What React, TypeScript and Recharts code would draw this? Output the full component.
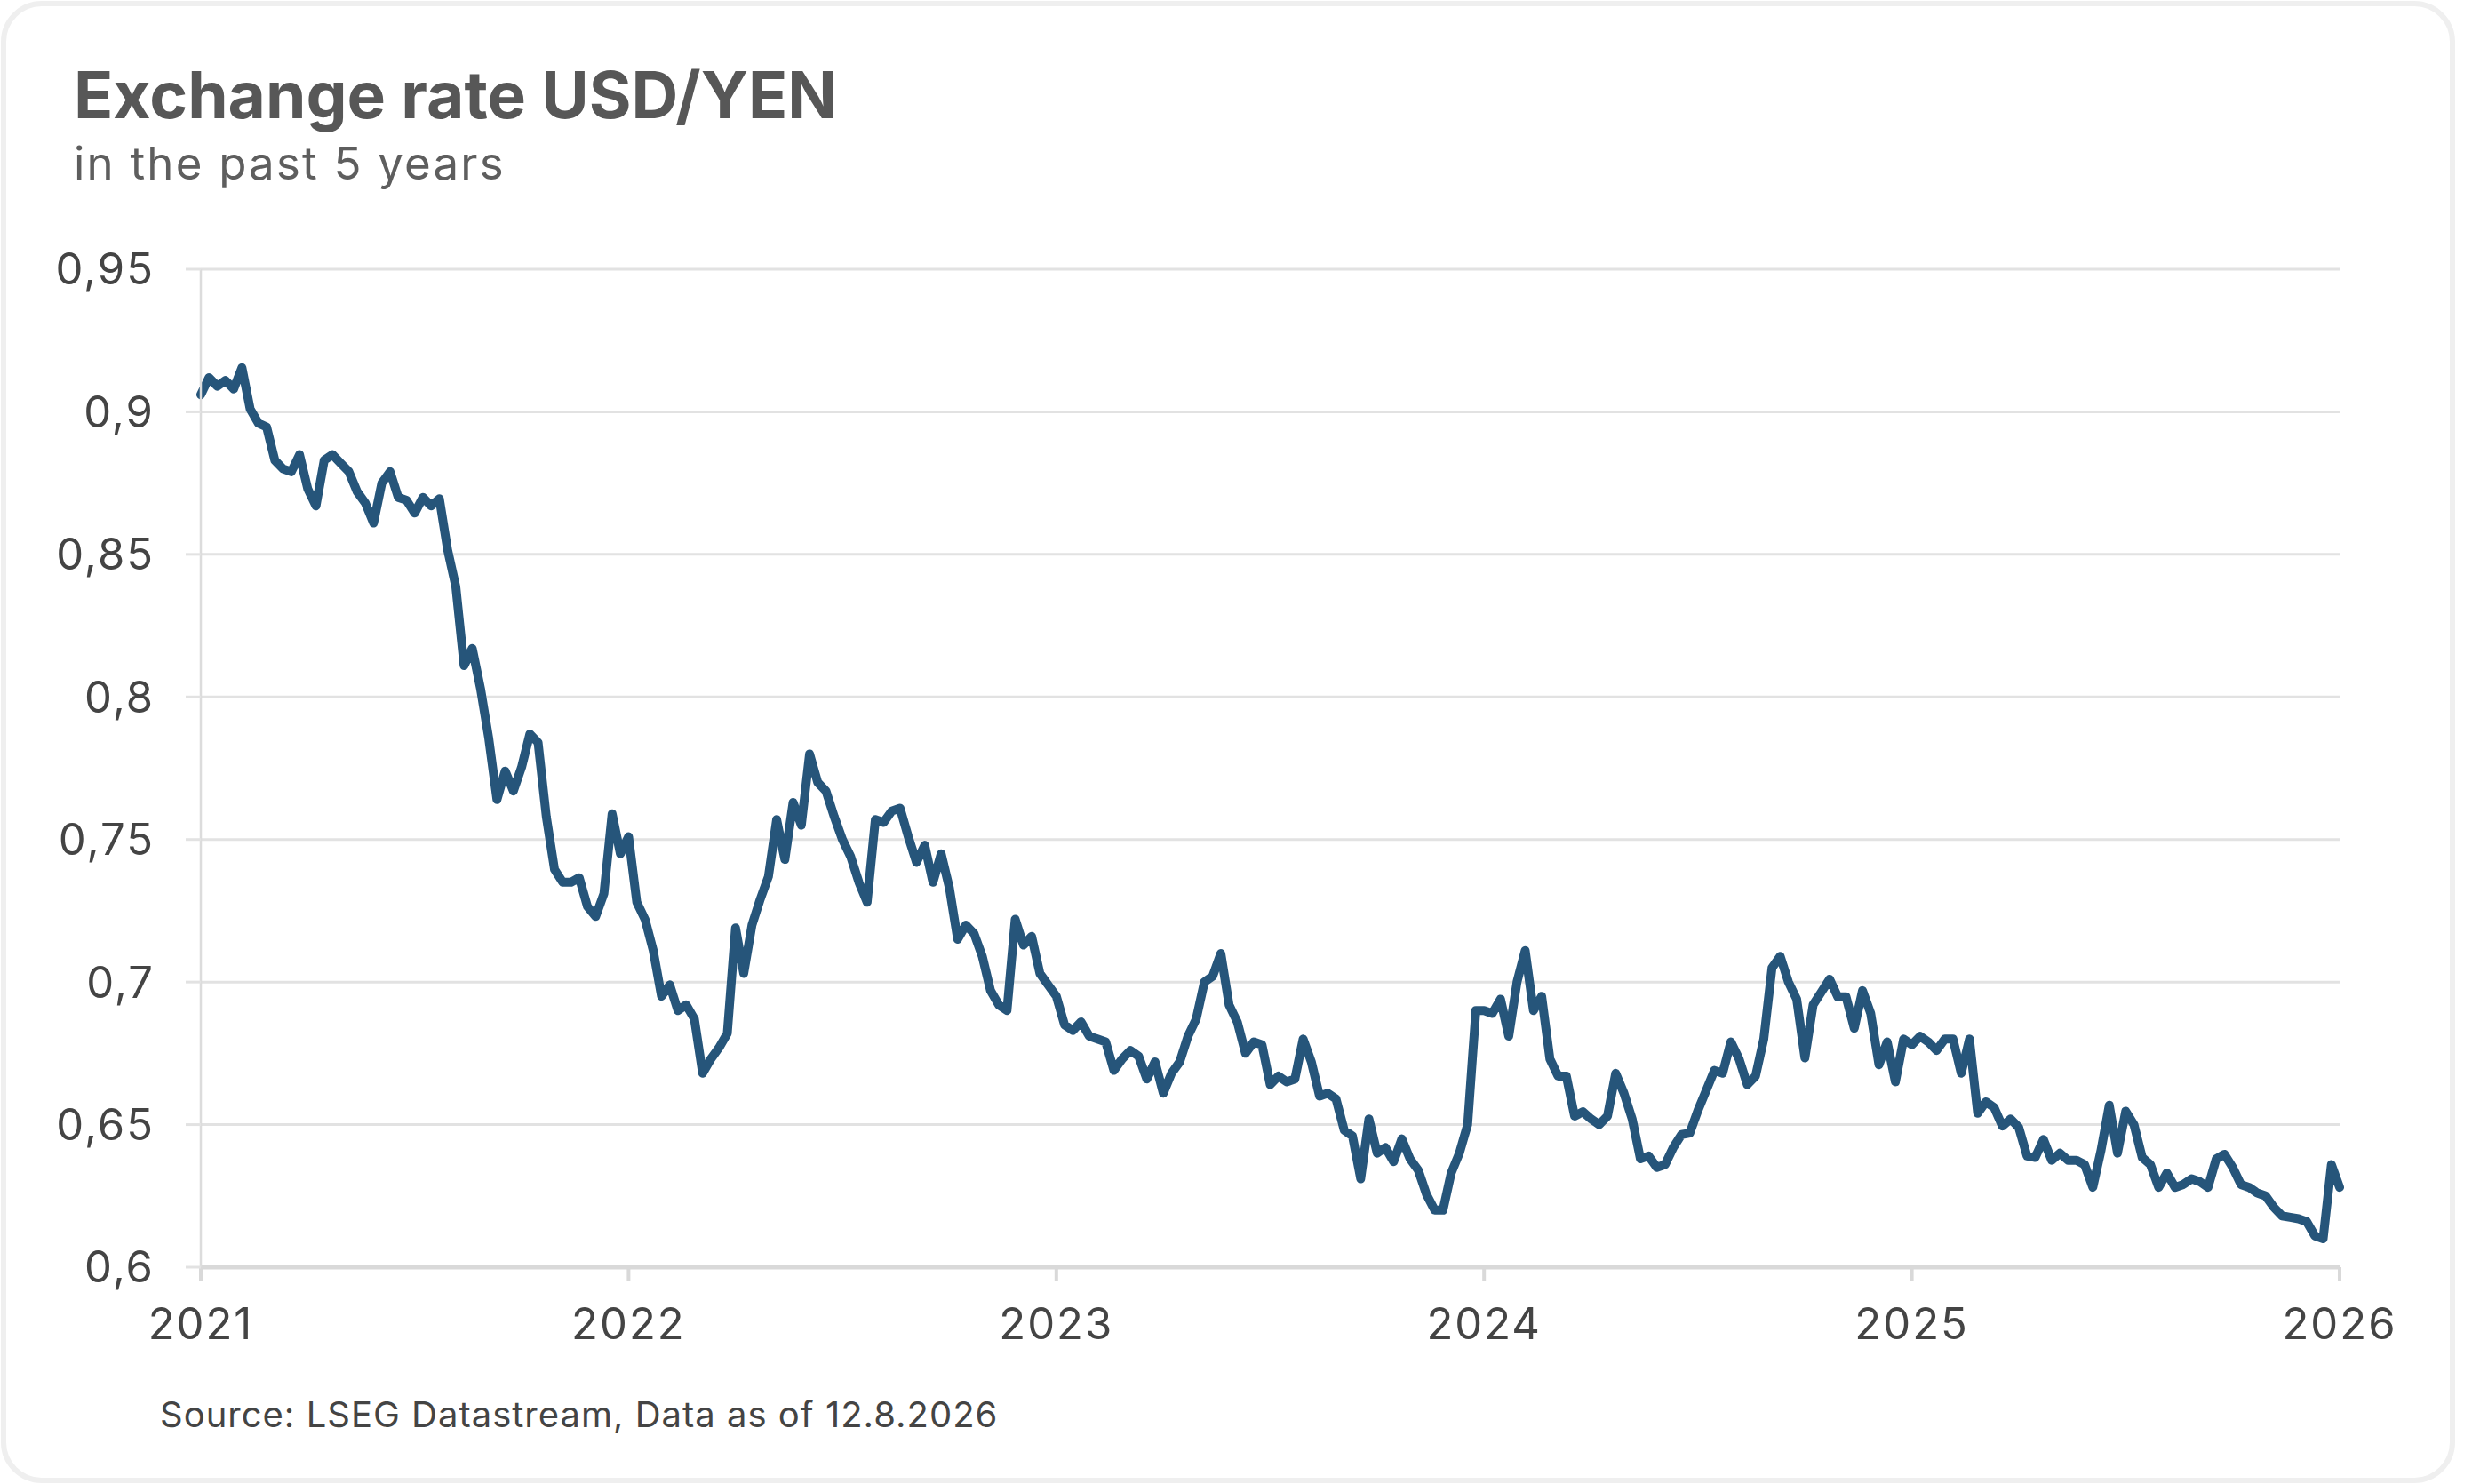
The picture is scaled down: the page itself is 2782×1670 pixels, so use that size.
import React from 'react';
import { LineChart, Line, XAxis, YAxis, CartesianGrid } from 'recharts';

// weekly USD/JPY readings per year (52 per year, last year also closes on 1 Jan 2026)
const years = [2021, 2022, 2023, 2024, 2025, 2026];
const yTicks = [0.6, 0.65, 0.7, 0.75, 0.8, 0.85, 0.9, 0.95];

const rate2021 = [
  0.906, 0.912, 0.909, 0.911, 0.908, 0.9155, 0.901, 0.896, 0.8947, 0.883, 0.88, 0.879, 0.885,
  0.873, 0.867, 0.883, 0.885, 0.882, 0.879, 0.872, 0.868, 0.861, 0.875, 0.879, 0.87, 0.869,
  0.8645, 0.87, 0.867, 0.8695, 0.8516, 0.8386, 0.811, 0.817, 0.803, 0.7855, 0.764, 0.774, 0.767,
  0.7754, 0.787, 0.784, 0.758, 0.7395, 0.735, 0.735, 0.7366, 0.7265, 0.723, 0.731, 0.759, 0.745,
];
const rate2022 = [
  0.751, 0.728, 0.722, 0.711, 0.695, 0.699, 0.69, 0.692, 0.687, 0.668, 0.673, 0.677, 0.682,
  0.719, 0.703, 0.72, 0.729, 0.737, 0.757, 0.743, 0.763, 0.755, 0.78, 0.77, 0.767, 0.758,
  0.75, 0.744, 0.735, 0.728, 0.757, 0.756, 0.76, 0.761, 0.751, 0.742, 0.748, 0.735, 0.745,
  0.733, 0.715, 0.72, 0.717, 0.709, 0.697, 0.692, 0.69, 0.722, 0.713, 0.716, 0.703, 0.699,
];
const rate2023 = [
  0.695, 0.685, 0.683, 0.686, 0.681, 0.68, 0.679, 0.669, 0.673, 0.676, 0.674, 0.666, 0.672,
  0.661, 0.668, 0.672, 0.681, 0.687, 0.7, 0.702, 0.71, 0.692, 0.686, 0.675, 0.679, 0.678,
  0.664, 0.667, 0.665, 0.666, 0.68, 0.672, 0.66, 0.661, 0.659, 0.648, 0.646, 0.631, 0.652,
  0.64, 0.642, 0.637, 0.645, 0.638, 0.634, 0.6255, 0.62, 0.62, 0.633, 0.64, 0.65, 0.69,
];
const rate2024 = [
  0.69, 0.689, 0.694, 0.681, 0.7, 0.711, 0.69, 0.695, 0.673, 0.667, 0.667, 0.653, 0.6545,
  0.652, 0.65, 0.653, 0.668, 0.661, 0.652, 0.638, 0.639, 0.635, 0.636, 0.642, 0.6465, 0.647,
  0.655, 0.662, 0.669, 0.668, 0.679, 0.673, 0.664, 0.667, 0.68, 0.705, 0.709, 0.7, 0.694,
  0.6734, 0.692, 0.6965, 0.701, 0.6948, 0.6948, 0.6838, 0.697, 0.689, 0.671, 0.679, 0.665, 0.68,
];
const rate2025 = [
  0.678, 0.681, 0.679, 0.676, 0.68, 0.68, 0.668, 0.68, 0.654, 0.658, 0.656, 0.6495, 0.652,
  0.649, 0.639, 0.6385, 0.6448, 0.6375, 0.64, 0.6375, 0.6375, 0.636, 0.628, 0.641, 0.6568, 0.64,
  0.6547, 0.65, 0.6385, 0.636, 0.628, 0.633, 0.628, 0.629, 0.631, 0.63, 0.628, 0.638, 0.6396,
  0.635, 0.629, 0.628, 0.626, 0.625, 0.621, 0.618, 0.6175, 0.617, 0.616, 0.611, 0.61, 0.636,
  0.628,
];

const yearly = [rate2021, rate2022, rate2023, rate2024, rate2025];
const data = yearly.flatMap((vals, yi) =>
  vals.map((v, i) => ({ t: years[yi] + i / 52, rate: v }))
);

const fmtRate = (v: number) => String(v).replace('.', ',');

const tickStyle = { fill: '#444', fontSize: 49, fontFamily: 'Inter', letterSpacing: 2 };

export default function App() {
  return (
    <div style={{ position: 'absolute', left: 0, top: 0, width: 2782, height: 1670, background: '#fff', fontFamily: 'Inter' }}>
      <div
        style={{
          position: 'absolute', left: 1, top: 1, width: 2762, height: 1668,
          border: '6px solid #efefef', borderRadius: 46, boxSizing: 'border-box',
        }}
      />
      <LineChart
        width={2782}
        height={1670}
        data={data}
        margin={{ top: 303, right: 149, bottom: 144, left: 0 }}
        style={{ position: 'absolute', left: 0, top: 0 }}
      >
        <CartesianGrid vertical={false} stroke="#e2e2e2" strokeWidth={3} />
        <XAxis
          dataKey="t"
          type="number"
          domain={[2021, 2026]}
          ticks={years}
          interval={0}
          height={100}
          tickSize={16}
          tickMargin={30}
          axisLine={{ stroke: '#d9d9d9', strokeWidth: 5 }}
          tickLine={{ stroke: '#d9d9d9', strokeWidth: 4 }}
          tick={tickStyle}
        />
        <YAxis
          type="number"
          domain={[0.6, 0.95]}
          ticks={yTicks}
          interval={0}
          width={226}
          tickSize={17}
          tickMargin={35}
          allowDataOverflow
          tickFormatter={fmtRate}
          axisLine={{ stroke: '#dcdcdc', strokeWidth: 2.5 }}
          tickLine={{ stroke: '#e2e2e2', strokeWidth: 3 }}
          tick={tickStyle}
        />
        <Line
          type="linear"
          dataKey="rate"
          stroke="#26557a"
          strokeWidth={10}
          strokeLinejoin="round"
          strokeLinecap="round"
          dot={false}
          activeDot={false}
          isAnimationActive={false}
        />
      </LineChart>
      <div style={{ position: 'absolute', left: 83, top: 70, fontSize: 73, lineHeight: 1, fontWeight: 700, color: '#575757', whiteSpace: 'nowrap' }}>
        Exchange rate USD/YEN
      </div>
      <div style={{ position: 'absolute', left: 83, top: 158, fontSize: 51, lineHeight: 1, letterSpacing: 2.2, color: '#5e5e5e', whiteSpace: 'nowrap' }}>
        in the past 5 years
      </div>
      <div style={{ position: 'absolute', left: 180, top: 1572, fontSize: 40, lineHeight: 1, letterSpacing: 1, color: '#444', whiteSpace: 'nowrap' }}>
        Source: LSEG Datastream, Data as of 12.8.2026
      </div>
    </div>
  );
}
